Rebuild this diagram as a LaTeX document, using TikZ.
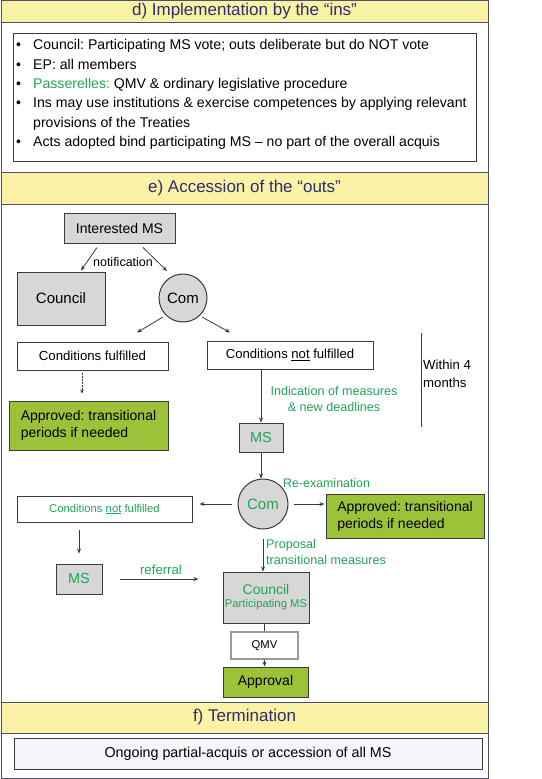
\documentclass[tikz,border=0pt]{standalone}
\usepackage{fontspec}
\setmainfont{Liberation Sans}
\usetikzlibrary{arrows.meta,calc}
\definecolor{hdyellow}{HTML}{FAF3A6}
\definecolor{hdtext}{HTML}{2E2C6E}
\definecolor{framec}{HTML}{4F4F6F}
\definecolor{boxgray}{HTML}{D7D7D7}
\definecolor{boxgreen}{HTML}{9CC23A}
\definecolor{txtgreen}{HTML}{22A35A}
\definecolor{edgec}{HTML}{3A3A3A}
\definecolor{fboxfill}{HTML}{F4F6FA}
\newcommand{\fs}[2]{\fontsize{#1}{#2}\selectfont}
\frenchspacing
\begin{document}
\begin{tikzpicture}[x=1pt,y=-1pt,
  hdr/.style={fill=hdyellow, draw=framec, line width=0.9pt, text=hdtext, inner sep=0pt, minimum width=487pt, font=\fs{17}{20}},
  bx/.style={draw=edgec, line width=1pt, inner sep=0pt, align=center},
  graybx/.style={bx, fill=boxgray},
  greenbx/.style={bx, fill=boxgreen},
  circ/.style={circle, draw=edgec, line width=1pt, fill=boxgray, inner sep=0pt},
  arr/.style={-{Stealth[length=5pt,width=4pt]}, line width=0.8pt, draw=edgec},
  gtxt/.style={text=txtgreen, inner sep=0pt}
]
\useasboundingbox (0,0) rectangle (541,779);
% outer frame and headers
\node[hdr, minimum height=22pt] (hd) at (244.5,11) {d) Implementation by the “ins”};
\node[hdr, minimum height=32pt] (he) at (244.5,188) {e) Accession of the “outs”};
\node[hdr, minimum height=31pt] (hf) at (244.5,717.5) {f) Termination};
\draw[framec, line width=0.9pt] (1,0) rectangle (488,778);

% d) box
\node[bx, minimum width=463pt, minimum height=128pt] (dbox) at (244.5,97) {};
\node[anchor=west, inner sep=0pt, align=left, font=\fs{14.1}{19.3}] (dtext) at (16,94.5)
{\makebox[17pt][l]{•}Council: Participating MS vote; outs deliberate but do NOT vote\\
\makebox[17pt][l]{•}EP: all members\\
\makebox[17pt][l]{•}\textcolor{txtgreen}{Passerelles:} QMV \& ordinary legislative procedure\\
\makebox[17pt][l]{•}Ins may use institutions \& exercise competences by applying relevant\\
\hspace*{17pt}provisions of the Treaties\\
\makebox[17pt][l]{•}Acts adopted bind participating MS – no part of the overall acquis};

% e) nodes
\node[graybx, minimum width=111pt, minimum height=30pt, font=\fs{14}{16}] (ims) at (119.5,228) {Interested MS};
\node[graybx, minimum width=88pt, minimum height=53pt, font=\fs{15}{18}] (council) at (61,298.5) {Council};
\node[circ, minimum size=48pt, font=\fs{15}{17}] (com1) at (183,298) {Com};
\node[font=\fs{12.5}{14}, inner sep=0pt] (notif) at (123,262) {notification};
\node[bx, minimum width=151pt, minimum height=28pt, font=\fs{13.2}{15}] (cf) at (92.5,356) {Conditions fulfilled};
\node[bx, minimum width=166pt, minimum height=28pt, font=\fs{13.1}{15}] (cnf) at (290,355) {Conditions \underline{not} fulfilled};
\node[greenbx, minimum width=159pt, minimum height=49pt, font=\fs{14}{17}, align=left] (ap1) at (88.5,425.5) {Approved: transitional\\periods if needed};
\node[graybx, minimum width=44pt, minimum height=29pt, font=\fs{14.5}{16}, text=txtgreen] (ms1) at (261,437.5) {MS};
\node[gtxt, align=center, font=\fs{12.6}{16}] (ind) at (334,399) {Indication of measures\\\& new deadlines};
\node[inner sep=0pt, anchor=west, align=left, font=\fs{13.2}{18}] (within) at (423,374) {Within 4\\months};
\draw[edgec, line width=0.8pt] (421,333) -- (421,427);

\node[circ, minimum size=50pt, font=\fs{15}{17}, text=txtgreen] (com2) at (263,504) {Com};
\node[gtxt, font=\fs{12.4}{14}, anchor=west] (reex) at (283,483) {Re-examination};
\node[bx, minimum width=175pt, minimum height=26pt, font=\fs{11.3}{13}, text=txtgreen] (cnf2) at (104.5,509) {Conditions \underline{not} fulfilled};
\node[greenbx, minimum width=158pt, minimum height=44pt, font=\fs{14}{17}, align=left] (ap2) at (405,516) {Approved: transitional\\periods if needed};
\node[graybx, minimum width=46pt, minimum height=30pt, font=\fs{14.5}{16}, text=txtgreen] (ms2) at (79,579) {MS};
\node[gtxt, font=\fs{13.2}{15}] (refl) at (161,570) {referral};
\node[gtxt, anchor=west, align=left, font=\fs{12.6}{16}] (prop) at (266,552) {Proposal\\transitional measures};
\node[graybx, minimum width=86pt, minimum height=51pt, text=txtgreen] (cou2) at (266,597.5) {{\fs{14}{16}Council}\\[1pt]{\fs{11.3}{13}Participating MS}};
\node[bx, draw=gray!80, line width=1.5pt, minimum width=67pt, minimum height=27pt, font=\fs{11.3}{13}] (qmv) at (264.5,645.5) {QMV};
\node[greenbx, minimum width=85pt, minimum height=30pt, font=\fs{14}{16}] (appr) at (265.5,682) {Approval};

% f) box
\node[bx, fill=fboxfill, minimum width=468pt, minimum height=31pt, font=\fs{14.3}{16}] (fbox) at (248,753.5) {Ongoing partial-acquis or accession of all MS};

% connectors
\draw[arr] ([xshift=-22.5pt,yshift=-4pt]ims.south) -- ([xshift=20pt,yshift=1pt]council.north);
\draw[arr] ([xshift=23.5pt,yshift=-4pt]ims.south) -- ([xshift=-16pt,yshift=27pt]com1.center);
\draw[arr] ([xshift=-20pt,yshift=-19pt]com1.center) -- ([xshift=44.5pt,yshift=9pt]cf.north);
\draw[arr] ([xshift=19pt,yshift=-19pt]com1.center) -- ([xshift=-60pt,yshift=8pt]cnf.north);
\draw[-{Stealth[length=4pt,width=3.5pt]}, densely dotted, line width=0.5pt, draw=edgec] ([xshift=-10.5pt,yshift=-2pt]cf.south) -- ([xshift=-6.5pt,yshift=7pt]ap1.north);
\draw[arr] (cnf.south -| ms1.north) -- (ms1.north);
\draw[arr] (ms1.south) -- (ms1.south |- com2.north);
\draw[arr, shorten <=6pt, shorten >=7pt] (com2.west) -- (com2.west -| cnf2.east);
\draw[arr, shorten <=5pt, shorten >=1pt] (com2.east) -- (com2.east -| ap2.west);
\draw[arr, shorten <=7pt, shorten >=10pt] (ms2.north |- cnf2.south) -- (ms2.north);
\draw[arr, shorten <=17pt, shorten >=24pt] (ms2.east) -- (ms2.east -| cou2.west);
\draw[arr, shorten <=9pt] (com2.south) -- (com2.south |- cou2.north);
\draw[edgec, line width=0.8pt] (qmv.north |- cou2.south) -- (qmv.north);
\draw[arr] (qmv.south) -- (qmv.south |- appr.north);
\end{tikzpicture}
\end{document}
